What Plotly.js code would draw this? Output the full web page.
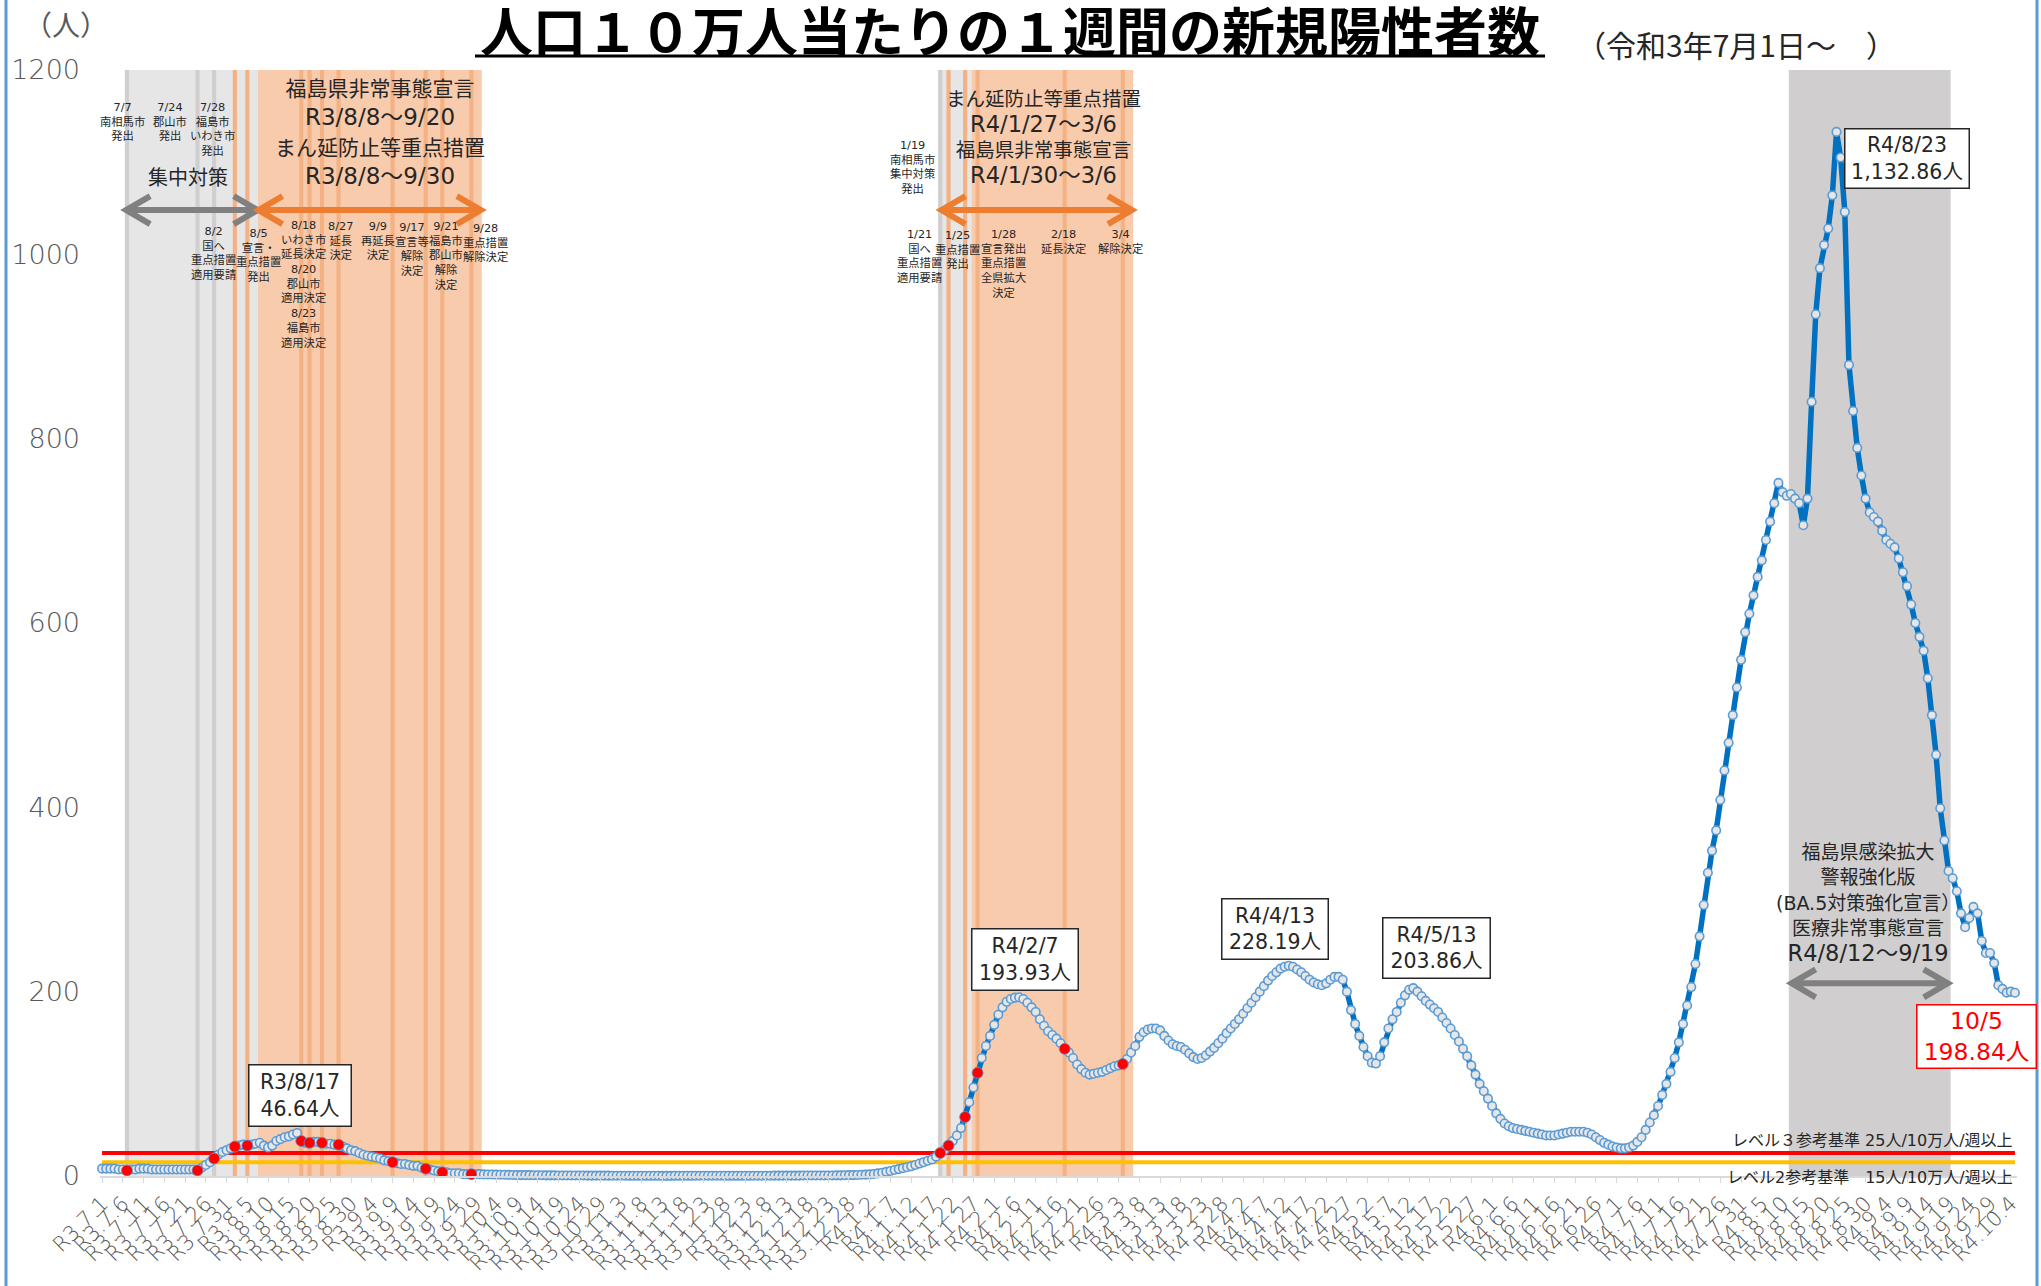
<!DOCTYPE html>
<html><head><meta charset="utf-8">
<script src="https://cdn.plot.ly/plotly-3.0.1.min.js"></script>
<style>html,body{margin:0;padding:0;background:#fff}#chart{width:2041px;height:1286px}</style>
</head><body><div id="chart"></div>
<script>
// ---- data: 7-day new positives per 100k, daily from R3(2021)/7/1 ----
const r3Jul = [8,8,8,8,7,7,6,7,7,8,8,8,7,7,7,7,7,7,7,7,7,7,7,6,9,12,15,19,23,26,28];
const r3Aug = [30,32,33,34,33,34,35,36,33,31,33,38,40,42,43,45,46.64,38,36,36,37,37,36,35,35,34,34,32,30,28,27];
const r3Sep = [25,23,22,21,20,19,17,16,15,14,13,13,12,11,11,9,8,7,6,5,4,4,3,3,3,2,2,2,2,2];
const r3Oct = [1.8,1.7,1.6,1.5,1.4,1.3,1.2,1.1,1.0,1.0,0.9,0.9,0.8,0.8,0.8,0.7,0.7,0.7,0.6,0.6,0.6,0.5,0.5,0.5,0.5,0.4,0.4,0.4,0.4,0.4,0.4];
const r3Nov = [0.3,0.3,0.3,0.3,0.2,0.2,0.2,0.2,0.2,0.2,0.2,0.2,0.1,0.1,0.1,0.2,0.2,0.2,0.2,0.2,0.3,0.3,0.3,0.3,0.3,0.3,0.3,0.2,0.2,0.2];
const r3Dec = [0.2,0.2,0.2,0.2,0.3,0.3,0.3,0.3,0.3,0.4,0.4,0.4,0.4,0.4,0.4,0.4,0.5,0.5,0.5,0.5,0.5,0.5,0.6,0.6,0.7,0.7,0.8,0.9,1.0,1.1,1.3];
const r4Jan = [1.5,1.8,2.2,2.8,3.5,4.5,5.5,6.5,7.5,8.5,9.5,10.5,12,13.5,15,16.5,18,21,25,28,33,38,44,52,64,80,96,112,128,141,152];
const r4Feb = [164,175,183,189,192,193.5,193.93,192,188,183,178,170,163,157,153,149,144,138,134,128,121,116,112,110,111,112,113,115];
const r4Mar = [117,119,120,121.5,127,134,141,151,156,159,160,160,158,152,147,143,141,140,137,133,129,127,128,131,135,139,144,149,155,160,165];
const r4Apr = [170,176,182,188,194,200,206,212,217,221,225,227,228.19,227,224,221,217,213,210,208,207,209,213,216,216,213,200,180,165,152];
const r4May = [140,130,123,122,130,145,160,170,178,188,196,202,203.86,200,195,190,186,182,178,172,166,160,153,146,138,130,120,110,100,92,84];
const r4Jun = [76,68,62,57,54,52,51,50,49,48,47,46,45,44,44,44,45,46,47,48,48,48,48,47,45,42,39,36,34,32];
const r4Jul = [31,30,30,31,33,37,42,50,58,66,76,88,100,113,128,145,165,185,205,230,260,294,329,353,375,408,440,470,500,530,560];
const r4Aug = [590,610,630,650,668,690,710,730,752,742,738,740,735,730,706,735,840,935,985,1010,1028,1064,1132.86,1105,1046,880,830,790,760,735,720];
const r4Sep = [715,710,700,690,686,682,670,655,640,620,600,585,570,540,500,457,399,364,331,323,309,285,270,280,292,285,255,242,242,231];
const r4Oct = [207,203,199,200,198.84];

const START_DATE = '2021-07-01';
const LEVEL3 = 25, LEVEL2 = 15;
const yTicks = [0,200,400,600,800,1000,1200];

const redDates = ['2021-07-07','2021-07-24','2021-07-28','2021-08-02','2021-08-05','2021-08-18','2021-08-20','2021-08-23','2021-08-27','2021-09-09','2021-09-17','2021-09-21','2021-09-28','2022-01-19','2022-01-21','2022-01-25','2022-01-28','2022-02-18','2022-03-04'];
const grayStripeDates = ['2021-07-07','2021-07-24','2021-07-28','2022-01-19'];
const orangeStripeDates = ['2021-08-02','2021-08-05','2021-08-18','2021-08-20','2021-08-23','2021-08-27','2021-09-09','2021-09-17','2021-09-21','2021-09-28','2022-01-21','2022-01-25','2022-01-28','2022-02-18','2022-03-04'];
const lightGrayPeriods = [['2021-07-07','2021-08-07'],['2022-01-19','2022-01-26']];
const orangePeriods = [['2021-08-08','2021-09-30'],['2022-01-27','2022-03-06']];
const darkGrayPeriods = [['2022-08-12','2022-09-19']];
const peakDates = ['2021-08-17','2022-02-07','2022-04-13','2022-05-13','2022-08-23'];

// ---- build ----
const values = [].concat(r3Jul,r3Aug,r3Sep,r3Oct,r3Nov,r3Dec,r4Jan,r4Feb,r4Mar,r4Apr,r4May,r4Jun,r4Jul,r4Aug,r4Sep,r4Oct);
const T0 = Date.parse(START_DATE+'T00:00:00Z');
const days = values.map((v,i)=>i);
function dayOf(s){return Math.round((Date.parse(s+'T00:00:00Z')-T0)/86400000);}
function dt(i){return new Date(T0+i*86400000);}
function tickLabel(i){const d=dt(i);return 'R'+(d.getUTCFullYear()-2018)+'.'+(d.getUTCMonth()+1)+'.'+d.getUTCDate();}
function reiwa(i){const d=dt(i);return 'R'+(d.getUTCFullYear()-2018)+'/'+(d.getUTCMonth()+1)+'/'+d.getUTCDate();}
const tickVals = days.filter(i=>i%5===0);
const tickText = tickVals.map(tickLabel);
const N = values.length;

const W=2041,H=1286, ML=100, MR=24, MT=70, MB=110;
const PW=W-ML-MR, PH=H-MT-MB;
const XMIN=-0.5, XMAX=N-0.5, YMAX=1200;
const pxPerDay = PW/(XMAX-XMIN), pxPerUnit = PH/YMAX;
function px(x){return (x-ML)/PW;}
function py(y){return (MT+PH-y)/PH;}

const FJ = '"Noto Sans CJK JP","Noto Sans",sans-serif';
const FM = '"DejaVu Sans","Noto Sans CJK JP",sans-serif';
const C_LG='#E7E6E6', C_DG='#D0CECE', C_OR='#F8CBAD', C_ORS='#F4B183';

const shapes=[];
function band(a,b,col){shapes.push({type:'rect',xref:'x',yref:'y',x0:dayOf(a)-0.5,x1:dayOf(b)+0.5,y0:0,y1:YMAX,fillcolor:col,line:{width:0},layer:'below'});}
lightGrayPeriods.forEach(p=>band(p[0],p[1],C_LG));
orangePeriods.forEach(p=>band(p[0],p[1],C_OR));
darkGrayPeriods.forEach(p=>band(p[0],p[1],C_DG));
grayStripeDates.forEach(d=>band(d,d,C_DG));
orangeStripeDates.forEach(d=>band(d,d,C_ORS));

function arrow(xa,xb,yv,col){
  const ax=24/pxPerDay, ay=14/pxPerUnit;
  const p=`M ${xa+ax},${yv+ay} L ${xa},${yv} L ${xa+ax},${yv-ay} M ${xa},${yv} L ${xb},${yv} M ${xb-ax},${yv+ay} L ${xb},${yv} L ${xb-ax},${yv-ay}`;
  shapes.push({type:'path',xref:'x',yref:'y',path:p,line:{color:col,width:6},layer:'above'});
}
arrow(dayOf('2021-07-07')-0.2, dayOf('2021-08-08')-0.5, 1048, '#808080');
arrow(dayOf('2021-08-08')-0.3, dayOf('2021-09-30')+0.3, 1048, '#ED7D31');
arrow(dayOf('2022-01-19')+0.3, dayOf('2022-03-06')+0.2, 1048, '#ED7D31');
arrow(dayOf('2022-08-12')+0.2, dayOf('2022-09-19')-0.2, 209, '#808080');

shapes.push({type:'line',xref:'paper',yref:'paper',x0:px(475),x1:px(1545),y0:py(56),y1:py(56),line:{color:'#000',width:3}});
shapes.push({type:'line',xref:'paper',yref:'paper',x0:px(6),x1:px(6),y0:py(0),y1:py(H),line:{color:'#5B9BD5',width:3}});
shapes.push({type:'line',xref:'paper',yref:'paper',x0:px(2037),x1:px(2037),y0:py(0),y1:py(H),line:{color:'#5B9BD5',width:3}});

const ann=[];
function txt(x,y,t,size,color,extra,fam){ann.push(Object.assign({xref:'paper',yref:'paper',x:px(x),y:py(y),text:t,showarrow:false,xanchor:'center',yanchor:'middle',font:{family:fam||FM,size:size,color:color||'#262626'}},extra||{}));}
function block(x,y0,y1,lines,size,color){txt(x,(y0+y1)/2,lines.join('<br>'),size,color);}
function big(x,y0,y1,lines,base,kz,rz){txt(x,(y0+y1)/2,lines.map(l=>'<span style="font-size:'+(/^R\d/.test(l)?rz:kz)+'px">'+l+'</span>').join('<br>'),base);}

const S=11.3;
block(122,107,136,['7/7','南相馬市','発出'],S);
block(170,107,136,['7/24','郡山市','発出'],S);
block(212,107,152,['7/28','福島市','いわき市','発出'],S);
txt(188,178,'集中対策',20);
big(380,88,177,['福島県非常事態宣言','R3/8/8～9/20','まん延防止等重点措置','R3/8/8～9/30'],22.6,21,23);
block(213,231,275,['8/2','国へ','重点措置','適用要請'],S);
block(258,233,277,['8/5','宣言・','重点措置','発出'],S);
block(303,226,343,['8/18','いわき市','延長決定','8/20','郡山市','適用決定','8/23','福島市','適用決定'],S);
block(340,226,255,['8/27','延長','決定'],S);
block(378,227,255,['9/9','再延長','決定'],S);
block(412,227,271,['9/17','宣言等','解除','決定'],S);
block(446,227,285,['9/21','福島市','郡山市','解除','決定'],S);
block(485,228,258,['9/28','重点措置','解除決定'],S);

block(912,145,189,['1/19','南相馬市','集中対策','発出'],S);
big(1043,99,176,['まん延防止等重点措置','R4/1/27～3/6','福島県非常事態宣言','R4/1/30～3/6'],19.7,19.5,22.5);
block(919,235,278,['1/21','国へ','重点措置','適用要請'],S);
block(957,235,264,['1/25','重点措置','発出'],S);
block(1003,235,293,['1/28','宣言発出','重点措置','全県拡大','決定'],S);
block(1063,235,250,['2/18','延長決定'],S);
block(1120,235,250,['3/4','解除決定'],S);

big(1868,852,954,['福島県感染拡大','警報強化版','(BA.5対策強化宣言）','医療非常事態宣言','R4/8/12～9/19'],19.6,19,22.5);

txt(2015,1140,'レベル３参考基準 25人/10万人/週以上',16,'#262626',{xanchor:'right'});
txt(2015,1177,'レベル2参考基準　15人/10万人/週以上',16,'#262626',{xanchor:'right'});

function fmt(v){return v.toLocaleString('en-US',{minimumFractionDigits:2,maximumFractionDigits:2});}
const boxPos=[[299.5,1095,101,60],[1024.5,959,105,60],[1274.5,928.5,105,59],[1436,947.5,106,59],[1906.5,159,123,58]];
peakDates.forEach((d,k)=>{const i=dayOf(d);const b=boxPos[k];
  txt(b[0],b[1],reiwa(i)+'<br>'+fmt(values[i])+'人',20.5,'#262626',{bgcolor:'#fff',bordercolor:'#262626',borderwidth:1.5,borderpad:0,width:b[2],height:b[3]});});
{const i=N-1;const d=dt(i);
  txt(1976,1036,(d.getUTCMonth()+1)+'/'+d.getUTCDate()+'<br>'+fmt(values[i])+'人',23.5,'#FF0000',{bgcolor:'#fff',bordercolor:'#FF0000',borderwidth:1.5,borderpad:0,width:118,height:62});}

txt(66,24,'（人）',28,'#595959',{},FJ);
txt(1736,44,'（令和3年7月1日～　）',30,'#262626',{},FJ);

const redIdx = redDates.map(dayOf);
const traces=[
  {x:[0,N-1],y:[LEVEL2,LEVEL2],mode:'lines',line:{color:'#FFC000',width:4},hoverinfo:'skip'},
  {x:[0,N-1],y:[LEVEL3,LEVEL3],mode:'lines',line:{color:'#FF0000',width:4},hoverinfo:'skip'},
  {x:days,y:values,mode:'lines+markers',line:{color:'#0070C0',width:5.5},marker:{size:8.5,color:'#E7E6E6',line:{color:'#5B9BD5',width:1.6}},cliponaxis:false},
  {x:redIdx,y:redIdx.map(i=>values[i]),mode:'markers',marker:{size:11,color:'#FF0000',line:{color:'#5B9BD5',width:0.8}},cliponaxis:false}
];

const layout={
  width:W,height:H,margin:{l:ML,r:MR,t:MT,b:MB},
  paper_bgcolor:'#fff',plot_bgcolor:'rgba(0,0,0,0)',showlegend:false,hovermode:false,
  title:{text:'人口１０万人当たりの１週間の新規陽性者数',font:{family:FJ,size:53,color:'#000',weight:700},xref:'paper',x:px(1010),xanchor:'center',yref:'container',y:1-33/H,yanchor:'middle'},
  xaxis:{range:[XMIN,XMAX],tickmode:'array',tickvals:tickVals,ticktext:tickText,tickangle:-45,
    tickfont:{family:FM,size:21,color:'#595959',weight:300},ticks:'outside',ticklen:5,tickcolor:'#D9D9D9',
    showline:true,linecolor:'#D9D9D9',linewidth:2,showgrid:false,zeroline:false},
  yaxis:{range:[0,YMAX],tickmode:'array',tickvals:yTicks,tickfont:{family:FM,size:27,color:'#595959',weight:300},
    showgrid:false,zeroline:false,showline:false,ticks:'',ticklabelstandoff:19},
  shapes:shapes,annotations:ann
};
Plotly.newPlot('chart',traces,layout,{staticPlot:true});
</script></body></html>
